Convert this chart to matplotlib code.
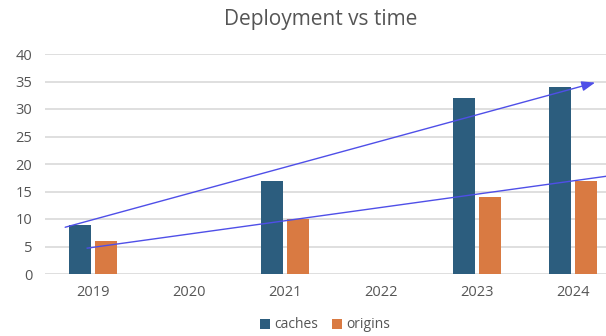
import matplotlib
matplotlib.use("Agg")
import matplotlib.pyplot as plt
import numpy as np

years = ["2019", "2020", "2021", "2022", "2023", "2024"]
caches = [9, None, 17, None, 32, 34]
origins = [6, None, 10, None, 14, 17]

# hand-drawn trend arrows (x in category units, y in data units)
trend_upper_x = [-0.29, 5.23]
trend_upper_y = [8.5, 34.8]
trend_lower_x = [-0.06, 5.4]
trend_lower_y = [4.7, 17.9]

plt.rcParams["font.family"] = ["Open Sans", "DejaVu Sans"]

fig = plt.figure(figsize=(6.06, 3.36), dpi=100)
ax = fig.add_axes([45 / 606, 1 - 274 / 336, 576 / 606, 220 / 336])

x = np.arange(len(years))
w = 0.23
off = 0.14
cx = [i for i, v in zip(x, caches) if v is not None]
cv = [v for v in caches if v is not None]
ox = [i for i, v in zip(x, origins) if v is not None]
ov = [v for v in origins if v is not None]
ax.bar(np.array(cx) - off, cv, width=w, color="#2C5D7E", label="caches", zorder=3)
ax.bar(np.array(ox) + off, ov, width=w, color="#D97A42", label="origins", zorder=3)

ax.annotate("", xy=(trend_upper_x[1], trend_upper_y[1]),
            xytext=(trend_upper_x[0], trend_upper_y[0]),
            arrowprops=dict(arrowstyle="-|>,head_length=0.8,head_width=0.3",
                            color="#4F4FE8", lw=1.0, shrinkA=0, shrinkB=0),
            zorder=4, annotation_clip=False)
ax.plot(trend_lower_x, trend_lower_y, color="#4F4FE8", lw=1.0, zorder=4,
        clip_on=False)

ax.set_xlim(-0.5, 5.5)
ax.set_ylim(0, 40)
ax.set_yticks(range(0, 41, 5))
ax.set_xticks(x)
ax.set_xticklabels(years)
ax.yaxis.grid(True, color="#D9D9D9", lw=1.2, zorder=0)
ax.set_axisbelow(True)
for s in ax.spines.values():
    s.set_visible(False)
ax.tick_params(axis="both", length=0, labelsize=10.5, labelcolor="#555555")
ax.tick_params(axis="y", pad=9)
ax.tick_params(axis="x", pad=8)

fig.text(321 / 606, 1 - 20 / 336, "Deployment vs time", ha="center", va="center",
         fontsize=15, color="#555555")

fig.legend(loc="center", bbox_to_anchor=(325 / 606, 1 - 325 / 336), ncol=2,
           frameon=False, fontsize=10, handlelength=0.7, handleheight=0.7,
           handletextpad=0.3, columnspacing=1.0, labelcolor="#555555")

fig.savefig("out.png", dpi=100)
